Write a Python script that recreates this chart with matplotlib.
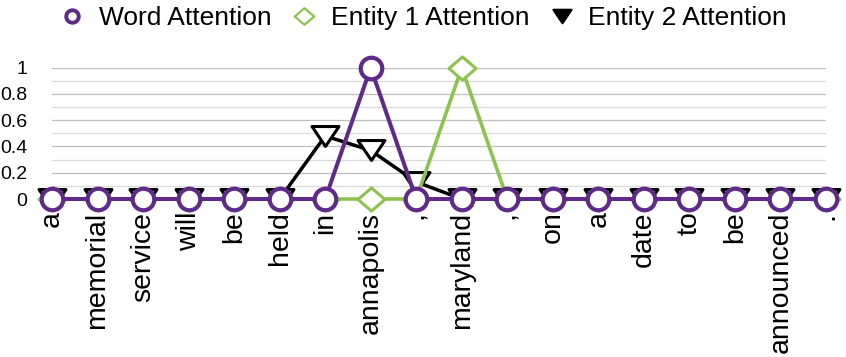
import numpy as np
import matplotlib
matplotlib.use("Agg")
import matplotlib.pyplot as plt
from matplotlib.path import Path
from matplotlib.lines import Line2D

plt.rcParams['font.family'] = ['Liberation Sans', 'DejaVu Sans']

# data
words = ['a', 'memorial', 'service', 'will', 'be', 'held', 'in', 'annapolis', ',',
         'maryland', ',', 'on', 'a', 'date', 'to', 'be', 'announced', '.']
word_att = [0, 0, 0, 0, 0, 0, 0, 1, 0, 0, 0, 0, 0, 0, 0, 0, 0, 0]
ent1_att = [0, 0, 0, 0, 0, 0, 0, 0, 0, 1, 0, 0, 0, 0, 0, 0, 0, 0]
ent2_att = [0, 0, 0, 0, 0, 0, 0.48, 0.37, 0.13, 0, 0, 0, 0, 0, 0, 0, 0, 0]
yticks = [0, 0.2, 0.4, 0.6, 0.8, 1]
ytick_labels = ['0', '0.2', '0.4', '0.6', '0.8', '1']

purple = '#5F2A88'
green = '#8DC24F'

# excel-ish markers
tri = Path([(-1, 0.74), (1, 0.74), (0, -0.74), (-1, 0.74)],
           [Path.MOVETO, Path.LINETO, Path.LINETO, Path.CLOSEPOLY])
dia = Path([(0, 0.86), (1, 0), (0, -0.86), (-1, 0), (0, 0.86)],
           [Path.MOVETO, Path.LINETO, Path.LINETO, Path.LINETO, Path.CLOSEPOLY])

fig = plt.figure(figsize=(8.46, 3.57), dpi=100)
ax = fig.add_axes([52 / 846, 1 - 199 / 357, (826 - 52) / 846, (199 - 67.7) / 357])

x = np.arange(len(words))

ax.plot(x, ent2_att, color='black', lw=2.5, marker=tri, ms=19.4, mew=2.2,
        mfc='white', mec='black', zorder=3, clip_on=False)
ax.plot(x, ent1_att, color=green, lw=2.6, marker=dia, ms=19.4, mew=2.2,
        mfc='white', mec=green, zorder=4, clip_on=False)
ax.plot(x, word_att, color=purple, lw=2.9, marker='o', ms=15.5, mew=3,
        mfc='white', mec=purple, zorder=5, clip_on=False)

ax.set_xlim(0, len(words) - 1)
ax.set_ylim(0, 1)

for v in np.arange(0.1, 1.01, 0.1):
    major = abs(round(v * 10) % 2) == 0
    ax.axhline(v, color='#BFBFBF' if major else '#DADADA', lw=0.9, zorder=1)

ax.set_yticks(yticks)
ax.set_yticklabels(ytick_labels, fontsize=14)
ax.set_xticks(x)
ax.set_xticklabels(words, rotation=90, fontsize=20.5)
ax.tick_params(axis='y', length=0, pad=18)
ax.tick_params(axis='x', length=0, pad=9)
for s in ax.spines.values():
    s.set_visible(False)

handles = [
    Line2D([], [], ls='none', marker='o', ms=9, mew=2.8, mfc='white', mec=purple),
    Line2D([], [], ls='none', marker=dia, ms=14, mew=1.6, mfc='white', mec=green),
    Line2D([], [], ls='none', marker=tri, ms=13, mew=1.6, mfc='black', mec='black'),
]
fig.legend(handles, ['Word Attention', 'Entity 1 Attention', 'Entity 2 Attention'],
           loc='upper center', bbox_to_anchor=(0.5, 1.05), ncol=3, frameon=False,
           fontsize=19, handlelength=1.0, handletextpad=0.5, columnspacing=0.75)

fig.savefig('out.png', dpi=100)
